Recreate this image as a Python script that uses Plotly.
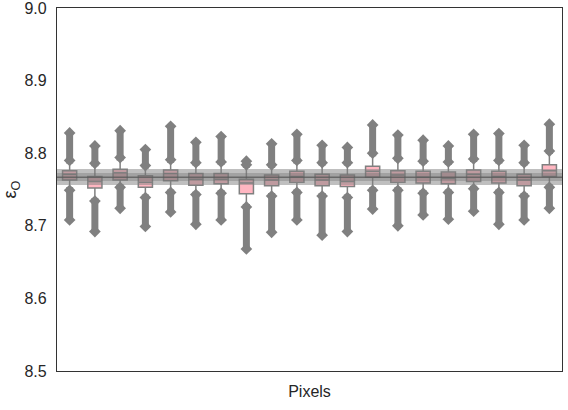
import plotly.graph_objects as go

# per-pixel box statistics
pixels = list(range(20))
q1 = [8.763, 8.752, 8.763, 8.753, 8.762, 8.756, 8.758, 8.744, 8.755, 8.760,
      8.755, 8.754, 8.767, 8.760, 8.759, 8.758, 8.761, 8.759, 8.755, 8.768]
median = [8.771, 8.761, 8.773, 8.760, 8.772, 8.764, 8.764, 8.759, 8.763, 8.768,
          8.763, 8.761, 8.775, 8.770, 8.767, 8.765, 8.771, 8.768, 8.763, 8.776]
q3 = [8.776, 8.768, 8.778, 8.769, 8.777, 8.772, 8.772, 8.764, 8.770, 8.775,
      8.771, 8.770, 8.782, 8.776, 8.775, 8.774, 8.777, 8.775, 8.771, 8.784]
lower_fence = [8.752, 8.737, 8.756, 8.742, 8.749, 8.746, 8.748, 8.729, 8.744, 8.749,
               8.744, 8.742, 8.752, 8.752, 8.748, 8.749, 8.754, 8.749, 8.744, 8.756]
upper_fence = [8.787, 8.783, 8.791, 8.780, 8.788, 8.784, 8.785, 8.781, 8.781, 8.787,
               8.784, 8.784, 8.797, 8.790, 8.786, 8.785, 8.789, 8.787, 8.784, 8.800]
# extent of the outlier columns (first and last flier)
upper_flier_lo = [8.790, 8.786, 8.794, 8.783, 8.791, 8.787, 8.788, 8.784, 8.784, 8.790,
                  8.787, 8.787, 8.800, 8.793, 8.789, 8.788, 8.792, 8.790, 8.787, 8.803]
upper_flier_hi = [8.828, 8.810, 8.831, 8.805, 8.837, 8.815, 8.823, 8.789, 8.813, 8.826,
                  8.811, 8.808, 8.839, 8.825, 8.818, 8.810, 8.826, 8.827, 8.811, 8.840]
lower_flier_hi = [8.749, 8.734, 8.753, 8.739, 8.746, 8.743, 8.745, 8.726, 8.741, 8.746,
                  8.741, 8.739, 8.749, 8.749, 8.745, 8.746, 8.751, 8.746, 8.741, 8.753]
lower_flier_lo = [8.708, 8.692, 8.724, 8.699, 8.719, 8.702, 8.708, 8.668, 8.691, 8.708,
                  8.687, 8.692, 8.723, 8.700, 8.715, 8.709, 8.720, 8.702, 8.708, 8.724]

# reference value and its spread
ref_mean = 8.767
ref_inner = (8.7617, 8.7727)
ref_outer = (8.7562, 8.7782)

GRAY = "#808080"

fig = go.Figure()

fig.add_trace(go.Box(
    x=pixels, q1=q1, median=median, q3=q3,
    lowerfence=lower_fence, upperfence=upper_fence,
    fillcolor="#ffb6c1",
    line=dict(color=GRAY, width=1.5),
    whiskerwidth=0.5,
    boxpoints=False,
    showlegend=False,
    hoverinfo="skip",
))

# outlier columns: dense diamonds drawn as a thick stroke with diamond ends
fx, fy = [], []
for i in pixels:
    fx += [i, i, None, i, i, None]
    fy += [upper_flier_lo[i], upper_flier_hi[i], None, lower_flier_hi[i], lower_flier_lo[i], None]
fig.add_trace(go.Scatter(
    x=fx, y=fy, mode="lines+markers",
    line=dict(color=GRAY, width=7),
    marker=dict(symbol="diamond", size=9, color=GRAY),
    showlegend=False, hoverinfo="skip",
))

fig.add_hrect(y0=ref_outer[0], y1=ref_outer[1], fillcolor="rgba(128,128,128,0.5)",
              line_width=0, layer="above")
fig.add_hrect(y0=ref_inner[0], y1=ref_inner[1], fillcolor="rgba(110,110,110,0.35)",
              line_width=0, layer="above")
fig.add_hline(y=ref_mean, line=dict(color="rgba(90,90,90,0.8)", width=1.5), layer="above")

fig.update_layout(
    width=568, height=410,
    margin=dict(l=57, r=6, t=8, b=39),
    paper_bgcolor="white", plot_bgcolor="white",
    font=dict(family="Liberation Sans, Arial, sans-serif", size=16, color="#262626"),
    boxgap=0.2,
)
fig.update_xaxes(
    range=[-0.5, 19.5], showticklabels=False, showgrid=False, zeroline=False,
    showline=True, mirror=True, linecolor="#333333", linewidth=1.2,
    automargin=False,
    title=dict(text="Pixels", font=dict(size=16), standoff=14),
)
fig.update_yaxes(
    range=[8.4999, 9.0001], tickvals=[8.5, 8.6, 8.7, 8.8, 8.9, 9.0],
    ticktext=["8.5", "8.6", "8.7", "8.8", "8.9", "9.0"],
    showgrid=False, zeroline=False, ticks="", ticklabelstandoff=6,
    ticklabeloverflow="allow",
    showline=True, mirror=True, linecolor="#333333", linewidth=1.2,
    automargin=False,
    title=dict(text="ε<sub>O</sub>", font=dict(size=18), standoff=8),
)

fig.write_html("out.html", config={"displayModeBar": False},
               post_script="document.body.style.margin='0';")
